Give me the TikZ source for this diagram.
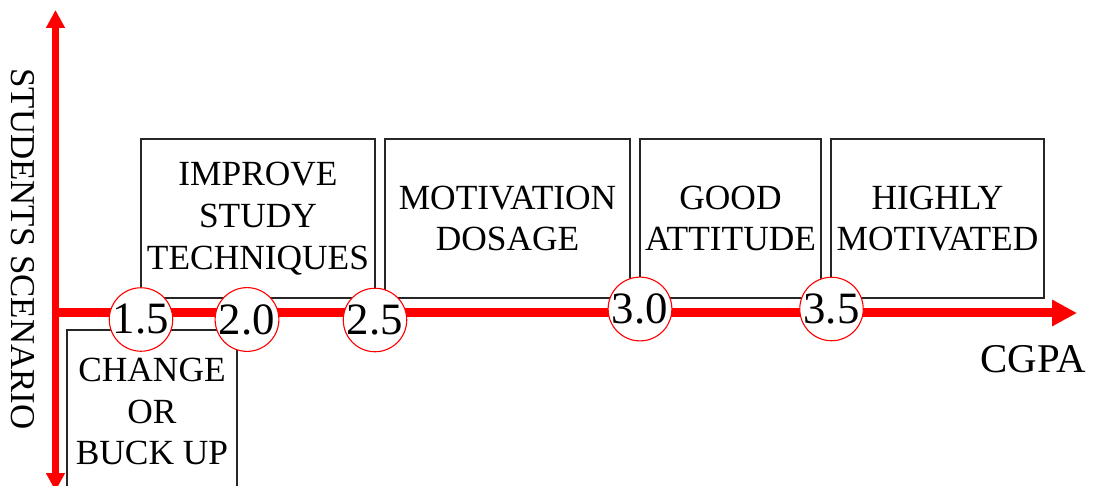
\documentclass[tikz,border=0pt]{standalone}
\usepackage{fontspec}
\setmainfont{Liberation Serif}
\usetikzlibrary{arrows.meta}
\begin{document}
\begin{tikzpicture}[x=1bp,y=-1bp,
  box/.style={draw=black!85, line width=1.3bp, inner sep=0pt, align=center,
    font=\fontsize{35.5}{42}\selectfont},
  mark circ/.style={circle, draw=red, line width=1.1bp, fill=white, inner sep=0pt,
    minimum size=63bp, font=\fontsize{45}{48}\selectfont},
  axis/.style={draw=red, line width=9bp},
  axisv/.style={draw=red, line width=7.5bp}]
\useasboundingbox (0,0) rectangle (1096,486);
% boxes
\node[box, minimum width=170bp, minimum height=163bp] (chg) at (152,411.5) {CHANGE\\OR\\BUCK UP};
\node[box, minimum width=234bp, minimum height=159bp] (imp) at (258,218.5) {IMPROVE\\STUDY\\TECHNIQUES};
\node[box, minimum width=245bp, minimum height=159bp] (mot) at (507.5,218.5) {MOTIVATION\\DOSAGE};
\node[box, minimum width=181bp, minimum height=159bp] (good) at (730.5,218.5) {GOOD\\ATTITUDE};
\node[box, minimum width=213bp, minimum height=159bp] (high) at (937.5,218.5) {HIGHLY\\MOTIVATED};
% axes
\coordinate (ytop) at (55.5,10);
\coordinate (ybot) at (55.5,491);
\coordinate (xstart) at (52,313);
\coordinate (xend) at (1077,313);
\draw[axisv, {Triangle[length=18bp,width=18bp]}-{Triangle[length=18bp,width=18bp]}] (ybot) -- (ytop);
\draw[axis, -{Triangle[length=25bp,width=25bp]}] (xstart) -- (xend);
% markers
\node[mark circ] (c15) at (141,319.5) {1.5};
\node[mark circ] (c20) at (247,319.5) {2.0};
\node[mark circ] (c25) at (375,320) {2.5};
\node[mark circ] (c30) at (640,309) {3.0};
\node[mark circ] (c35) at (831.5,309) {3.5};
% labels
\node[anchor=base, inner sep=0pt, font=\fontsize{41}{46}\selectfont] (cgpa) at (1033,373) {CGPA};
\node[rotate=-90, inner sep=0pt, font=\fontsize{35}{42}\selectfont] (ylab) at (22.5,249) {STUDENTS SCENARIO};
\end{tikzpicture}
\end{document}
